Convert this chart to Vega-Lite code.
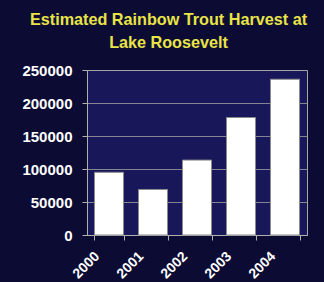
{
  "$schema": "https://vega.github.io/schema/vega-lite/v6.json",
  "width": 220,
  "height": 165,
  "autosize": {"type": "none"},
  "padding": {"left": 87, "top": 70, "right": 17, "bottom": 47},
  "background": "#0b0b33",
  "config": {
    "view": {"fill": "#17175a", "stroke": "#a8a8a8", "strokeWidth": 1},
    "font": "Liberation Sans"
  },
  "title": {
    "text": ["Estimated Rainbow Trout Harvest at", "Lake Roosevelt"],
    "color": "#e8e448",
    "fontSize": 16.2,
    "fontWeight": "bold",
    "font": "Liberation Sans",
    "anchor": "middle",
    "offset": 12,
    "lineHeight": 22.5,
    "dx": -28.5
  },
  "data": {
    "values": [
      {"year": "2000", "harvest": 95000},
      {"year": "2001", "harvest": 69000},
      {"year": "2002", "harvest": 113500},
      {"year": "2003", "harvest": 178000},
      {"year": "2004", "harvest": 236000}
    ]
  },
  "mark": {"type": "bar", "color": "#ffffff", "stroke": "#8a8a8a", "strokeWidth": 1},
  "encoding": {
    "x": {
      "field": "year",
      "type": "nominal",
      "scale": {"paddingInner": 0.34, "paddingOuter": 0.17},
      "axis": {
        "title": null,
        "labelAngle": -45,
        "labelColor": "#ffffff",
        "labelFont": "Liberation Sans",
        "labelFontWeight": "bold",
        "labelFontSize": 14,
        "labelOffset": -17,
        "labelPadding": 9,
        "domainColor": "#b0b0b0",
        "tickColor": "#b0b0b0",
        "tickSize": 5,
        "tickBand": "extent",
        "grid": false
      }
    },
    "y": {
      "field": "harvest",
      "type": "quantitative",
      "scale": {"domain": [0, 250000], "nice": false},
      "axis": {
        "title": null,
        "values": [0, 50000, 100000, 150000, 200000, 250000],
        "format": "d",
        "labelColor": "#ffffff",
        "labelFont": "Liberation Sans",
        "labelFontWeight": "bold",
        "labelFontSize": 15,
        "labelPadding": 10,
        "domainColor": "#b0b0b0",
        "tickColor": "#b0b0b0",
        "tickSize": 5,
        "grid": true,
        "gridColor": "#a0a0a0",
        "gridOpacity": 0.8
      }
    }
  }
}
